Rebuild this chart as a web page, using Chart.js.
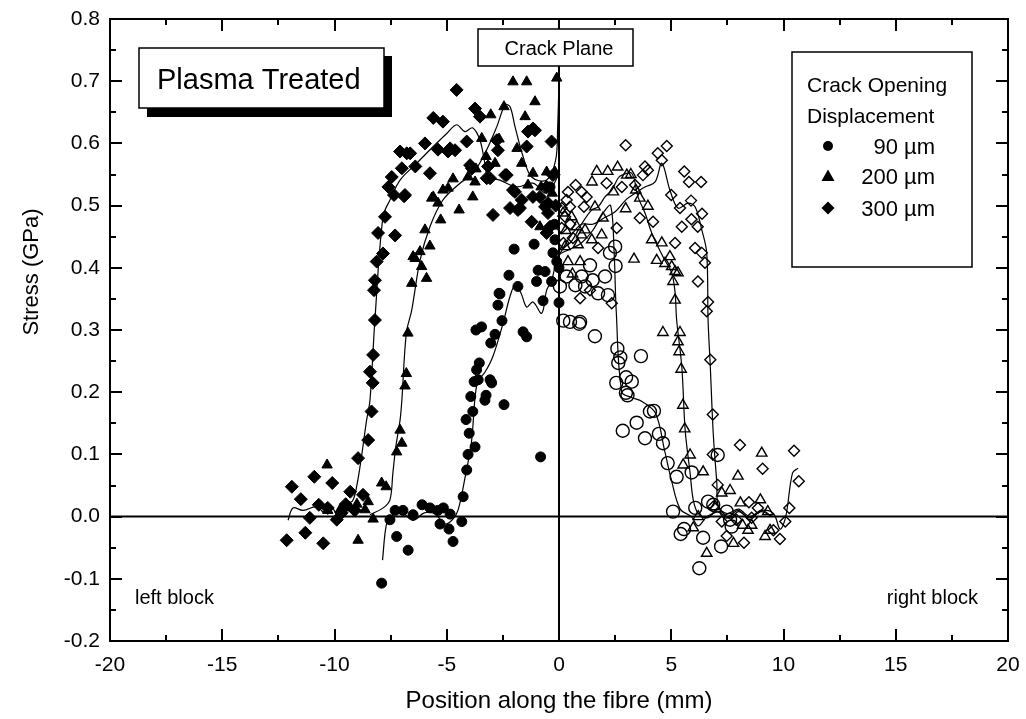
<!DOCTYPE html>
<html>
<head>
<meta charset="utf-8">
<script src="https://cdn.jsdelivr.net/npm/chart.js@4.4.1/dist/chart.umd.min.js"></script>
<style>
  html, body { margin: 0; padding: 0; background: #fff; }
  canvas { display: block; }
</style>
</head>
<body>
<canvas id="stressChart" width="1026" height="719"></canvas>
<script>
// axis ticks
const xTicks = [-20, -15, -10, -5, 0, 5, 10, 15, 20];
const yTicks = [-0.2, -0.1, 0.0, 0.1, 0.2, 0.3, 0.4, 0.5, 0.6, 0.7, 0.8];
const codLabels = ['90 \u00b5m', '200 \u00b5m', '300 \u00b5m'];

// 90 um, left block (filled circles)
const left90 = [
  [-7.9,-0.107],[-6.72,-0.054],[-7.23,-0.032],[-7.53,-0.005],[-7.3,0.01],[-6.95,0.01],[-6.5,0.003],
  [-6.1,0.019],[-5.75,0.014],[-5.4,0.01],[-5.3,-0.012],[-5.15,0.014],[-4.9,-0.02],[-4.72,-0.04],
  [-4.85,0.004],[-4.33,-0.008],[-4.27,0.032],[-4.11,0.075],[-4.05,0.1],[-3.74,0.112],[-4.0,0.134],
  [-4.14,0.156],[-3.84,0.169],[-3.93,0.193],[-3.3,0.187],[-3.25,0.195],[-2.45,0.18],[-3.78,0.217],
  [-3.6,0.22],[-3.07,0.22],[-3.0,0.215],[-3.67,0.236],[-3.55,0.247],[-3.04,0.279],[-2.85,0.293],
  [-3.7,0.3],[-3.45,0.305],[-2.54,0.315],[-2.72,0.34],[-2.63,0.358],[-1.83,0.37],[-1.6,0.297],
  [-1.44,0.289],[-0.82,0.096],[-1.0,0.378],[-0.71,0.347],[0.0,0.344],[-0.33,0.378],[-2.0,0.43],
  [-1.11,0.438],[-2.23,0.388],[-2.67,0.359],[-0.93,0.396],[-0.62,0.394],[-0.18,0.445],[-0.27,0.424],
  [-0.1,0.41],[-0.6,0.5],[-0.2,0.47],[-0.4,0.53],[0.0,0.4]
];

// 200 um, left block (filled triangles)
const left200 = [
  [-10.33,0.083],[-7.9,0.054],[-7.7,0.048],[-8.5,0.024],[-8.64,0.011],[-8.28,-0.004],[-8.95,-0.038],
  [-7.23,0.104],[-7.0,0.118],[-7.08,0.139],[-9.75,0.011],[-9.3,0.014],[-10.3,0.01],[-9.0,0.02],
  [-6.73,0.295],[-6.8,0.23],[-6.86,0.21],[-2.05,0.699],[-1.44,0.699],[-0.1,0.705],[-1.07,0.667],
  [-2.45,0.659],[-3.04,0.646],[-1.51,0.643],[-3.44,0.608],[-2.67,0.607],[-1.87,0.592],[-3.25,0.579],
  [-2.85,0.568],[-1.66,0.568],[-3.7,0.559],[-4.05,0.546],[-4.72,0.543],[-4.94,0.528],[-5.17,0.525],
  [-1.38,0.533],[-1.16,0.552],[-0.18,0.554],[-5.6,0.514],[-5.39,0.504],[-3.84,0.514],[-4.45,0.493],
  [-5.27,0.477],[-5.97,0.461],[-5.75,0.435],[-6.41,0.415],[-6.5,0.418],[-6.19,0.426],[-6.12,0.402],
  [-5.9,0.383],[-6.56,0.375],[-0.85,0.466],[-0.49,0.461],[-0.55,0.554],[-5.67,0.512],[-3.74,0.538],
  [-0.3,0.52],[-0.8,0.53]
];

// 300 um, left block (filled diamonds)
const left300 = [
  [-11.9,0.048],[-10.9,0.064],[-10.1,0.054],[-11.5,0.028],[-10.7,0.019],[-11.1,-0.002],[-12.13,-0.038],
  [-11.3,-0.026],[-10.5,-0.043],[-9.9,-0.005],[-10.3,0.014],[-9.3,0.04],[-8.95,0.094],[-8.5,0.123],
  [-8.73,0.035],[-9.68,0.006],[-9.5,0.02],[-9.1,0.01],[-8.2,0.316],[-8.28,0.26],[-8.42,0.233],
  [-8.3,0.215],[-8.35,0.169],[-7.08,0.587],[-6.78,0.584],[-7.0,0.56],[-7.45,0.546],[-7.6,0.53],
  [-7.35,0.517],[-6.9,0.515],[-7.75,0.482],[-8.06,0.456],[-7.3,0.452],[-7.84,0.423],[-8.12,0.41],
  [-8.2,0.38],[-8.24,0.364],[-4.56,0.686],[-3.74,0.656],[-3.52,0.643],[-5.6,0.641],[-5.17,0.635],
  [-5.97,0.6],[-5.39,0.59],[-4.94,0.587],[-4.11,0.603],[-6.4,0.563],[-5.75,0.552],[-3.96,0.565],
  [-3.22,0.544],[-2.4,0.549],[-2.05,0.525],[-1.66,0.509],[-1.16,0.624],[-1.38,0.619],[-0.33,0.603],
  [-1.44,0.595],[-2.18,0.496],[-1.83,0.493],[-2.94,0.485],[-1.22,0.474],[-0.85,0.514],[-0.55,0.456],
  [-0.62,0.498],[-1.07,0.621],[-2.72,0.589],[-2.77,0.605],[-2.33,0.549],[-1.96,0.522],[-1.74,0.496],
  [-1.16,0.514],[-0.55,0.53],[-0.49,0.504],[-0.49,0.488],[-0.4,0.466],[-3.07,0.544],[-3.16,0.563],
  [-3.88,0.56],[-4.63,0.589],[-4.85,0.592],[-6.63,0.584],[-6.86,0.517],[-0.27,0.549],[-0.15,0.5]
];

// 90 um, right block (open circles)
const right90 = [
  [0.19,0.315],[0.9,0.31],[1.6,0.29],[2.6,0.27],[2.73,0.256],[2.64,0.247],[3.65,0.258],[2.55,0.215],
  [2.99,0.224],[3.24,0.217],[2.98,0.199],[3.05,0.195],[4.05,0.169],[4.23,0.17],[3.46,0.151],
  [2.84,0.138],[3.83,0.126],[4.45,0.133],[4.63,0.118],[4.84,0.086],[5.24,0.064],[5.91,0.071],
  [6.07,0.014],[5.08,0.008],[6.64,0.024],[6.87,0.019],[5.57,-0.02],[5.42,-0.028],[6.42,-0.034],
  [7.22,-0.048],[6.25,-0.083],[7.07,0.099],[7.47,0.008],[7.62,-0.005],[7.69,-0.016],[2.5,0.434],
  [2.27,0.424],[2.52,0.403],[1.38,0.404],[1.01,0.386],[0.73,0.372],[2.05,0.386],[1.74,0.359],
  [2.18,0.356],[1.16,0.37],[0.04,0.37],[0.34,0.386],[0.49,0.313],[0.94,0.313],[1.5,0.38]
];

// 200 um, right block (open triangles)
const right200 = [
  [1.68,0.555],[2.17,0.555],[2.61,0.562],[1.47,0.538],[3.02,0.549],[3.2,0.55],[2.42,0.522],[3.42,0.525],
  [1.6,0.498],[2.97,0.495],[3.6,0.512],[3.96,0.499],[1.96,0.48],[0.18,0.488],[0.56,0.482],[0.79,0.466],
  [1.01,0.453],[1.46,0.445],[1.16,0.461],[1.9,0.453],[0.85,0.437],[0.27,0.434],[0.4,0.41],[0.94,0.41],
  [4.13,0.445],[4.58,0.44],[3.34,0.414],[4.35,0.412],[4.72,0.407],[4.94,0.418],[5.02,0.402],
  [5.17,0.394],[5.3,0.392],[5.08,0.378],[5.17,0.348],[4.63,0.296],[5.39,0.296],[5.3,0.281],
  [5.35,0.265],[5.44,0.237],[5.52,0.179],[5.6,0.141],[5.84,0.099],[5.53,0.083],[6.42,0.072],
  [7.97,0.065],[9.03,0.102],[7.62,0.042],[7.25,0.038],[8.08,0.022],[8.97,0.027],[6.96,0.016],
  [6.2,0.0],[5.98,-0.018],[8.18,-0.014],[8.42,-0.022],[8.58,-0.014],[7.77,-0.043],[6.58,-0.059],
  [9.18,-0.032],[9.4,-0.022],[9.3,0.008],[0.6,0.39],[0.3,0.46]
];

// 300 um, right block (open diamonds)
const right300 = [
  [2.97,0.597],[4.8,0.596],[4.4,0.584],[4.58,0.573],[5.58,0.555],[5.79,0.538],[6.33,0.538],[0.74,0.533],
  [0.4,0.522],[1.01,0.522],[1.23,0.514],[2.12,0.536],[3.83,0.563],[3.96,0.557],[3.74,0.549],[2.8,0.53],
  [3.39,0.533],[0.34,0.509],[0.49,0.498],[0.12,0.496],[0.27,0.482],[1.11,0.498],[5.0,0.517],
  [5.39,0.496],[5.88,0.508],[6.37,0.487],[5.9,0.478],[6.18,0.466],[5.47,0.466],[3.6,0.48],[4.19,0.474],
  [2.57,0.464],[5.17,0.44],[6.06,0.432],[6.36,0.424],[6.5,0.408],[1.74,0.432],[0.12,0.464],[0.62,0.448],
  [1.38,0.364],[0.94,0.351],[6.19,0.378],[6.64,0.345],[6.58,0.33],[2.35,0.343],[6.74,0.252],
  [6.85,0.164],[6.85,0.1],[7.07,0.051],[8.06,0.115],[9.07,0.077],[10.47,0.106],[10.68,0.057],
  [10.26,0.014],[10.08,-0.008],[9.84,-0.036],[9.55,-0.022],[8.46,0.023],[7.47,-0.031],[8.24,-0.042],
  [7.25,-0.008],[7.9,-0.005],[8.86,0.014],[8.58,-0.002],[6.87,0.016],[0.2,0.44],[0.5,0.47]
];

// smoothed fits
const fit90 = [
  [-7.86,-0.07],[-7.7,-0.015],[-7.5,0.0],[-7.0,0.006],[-6.5,-0.006],[-6.0,0.006],[-5.5,0.004],
  [-5.1,-0.012],[-4.75,-0.005],[-4.5,0.01],[-4.2,0.06],[-3.9,0.12],[-3.65,0.215],[-3.3,0.232],
  [-2.95,0.257],[-2.5,0.31],[-2.19,0.353],[-1.96,0.372],[-1.7,0.36],[-1.44,0.337],[-1.16,0.345],
  [-0.77,0.327],[-0.55,0.364],[-0.33,0.38],[0.0,0.42],[0.5,0.43],[1.0,0.44],[1.5,0.46],[2.0,0.49],
  [2.3,0.5],[2.45,0.43],[2.55,0.33],[2.8,0.2],[3.2,0.192],[3.7,0.185],[4.3,0.166],[4.7,0.107],
  [5.0,0.06],[5.4,0.012],[5.9,0.0],[6.2,-0.015],[6.6,0.0],[7.2,0.008],[7.6,-0.003],[8.0,0.008],
  [8.5,-0.002],[9.0,0.008],[9.5,0.0]
];
const fit200Left = [
  [-8.42,0.003],[-7.83,0.014],[-7.53,0.027],[-7.4,0.07],[-7.27,0.112],[-7.08,0.155],[-7.0,0.187],
  [-6.8,0.295],[-6.56,0.332],[-6.19,0.412],[-5.75,0.466],[-5.17,0.509],[-4.41,0.536],[-3.83,0.552],
  [-3.3,0.584],[-2.77,0.627],[-2.4,0.662],[-2.18,0.659],[-1.96,0.627],[-1.6,0.579],[-1.22,0.546],
  [-0.55,0.541],[-0.15,0.573],[-0.06,0.626],[0.0,0.70]
];
const fit200Right = [
  [0.0,0.43],[0.5,0.44],[1.0,0.47],[1.46,0.493],[1.74,0.498],[2.05,0.514],[2.35,0.525],[2.63,0.544],
  [2.8,0.549],[3.24,0.552],[3.52,0.514],[3.83,0.488],[4.13,0.456],[4.41,0.434],[4.72,0.412],
  [5.02,0.392],[5.17,0.36],[5.24,0.316],[5.47,0.241],[5.62,0.139],[5.84,0.07],[5.98,0.027],
  [6.2,0.005],[6.6,-0.002],[7.0,0.008],[7.5,0.0],[8.0,0.01],[8.5,-0.005],[9.0,0.01],[9.5,0.0]
];
const fit300Left = [
  [-12.07,-0.006],[-11.85,0.014],[-11.4,0.01],[-10.8,0.016],[-10.4,0.005],[-10.2,0.019],[-9.8,0.0],
  [-9.5,0.02],[-9.2,0.025],[-9.0,0.051],[-8.8,0.096],[-8.57,0.155],[-8.42,0.187],[-8.2,0.316],
  [-7.84,0.482],[-7.53,0.509],[-7.08,0.541],[-6.34,0.568],[-5.6,0.595],[-5.0,0.616],[-4.56,0.63],
  [-4.19,0.619],[-3.85,0.625],[-3.52,0.605],[-3.3,0.568],[-3.16,0.546],[-2.63,0.541],[-1.89,0.53],
  [-1.16,0.536],[-0.55,0.52],[0.0,0.55]
];
const fit300Right = [
  [0.0,0.42],[0.5,0.45],[1.0,0.47],[1.5,0.47],[2.0,0.48],[2.5,0.49],[3.0,0.51],[3.39,0.52],[3.83,0.53],
  [4.28,0.538],[4.58,0.568],[4.94,0.525],[5.3,0.496],[5.75,0.504],[6.06,0.498],[6.36,0.461],
  [6.58,0.424],[6.64,0.316],[6.74,0.241],[6.87,0.134],[7.03,0.054],[7.1,0.016],[7.5,0.005],
  [8.0,0.012],[8.5,0.0],[9.0,0.01],[9.55,0.005],[9.85,-0.02],[10.1,0.0],[10.4,0.07],[10.65,0.078]
];

const FONT = '"Liberation Sans", Arial, Helvetica, sans-serif';
const toPts = arr => arr.map(([x, y]) => ({ x, y }));

function markers(data, style, radius, filled) {
    return {
        data: toPts(data),
        showLine: false,
        pointStyle: style,
        pointRadius: radius,
        pointBorderWidth: filled ? 1 : 1.4,
        pointBorderColor: '#000',
        pointBackgroundColor: filled ? '#000' : 'rgba(0,0,0,0)',
        order: 1
    };
}

function fitLine(data) {
    return {
        data: toPts(data),
        showLine: true,
        borderColor: '#000',
        borderWidth: 1.2,
        pointRadius: 0,
        tension: 0.35,
        fill: false,
        order: 2
    };
}

function drawText(ctx, text, x, y, size, align) {
    ctx.font = `${size}px ${FONT}`;
    ctx.textAlign = align || 'left';
    ctx.textBaseline = 'alphabetic';
    ctx.fillStyle = '#000';
    ctx.fillText(text, x, y);
}

// zero lines behind the data
const guideLines = {
    id: 'guideLines',
    beforeDatasetsDraw(chart) {
        const { ctx, chartArea: a, scales: { x, y } } = chart;
        const y0 = y.getPixelForValue(0);
        const x0 = x.getPixelForValue(0);
        ctx.save();
        ctx.strokeStyle = '#000';
        ctx.lineWidth = 2;
        ctx.beginPath();
        ctx.moveTo(a.left, y0);
        ctx.lineTo(a.right, y0);
        ctx.moveTo(x0, 66);
        ctx.lineTo(x0, a.bottom);
        ctx.stroke();
        ctx.restore();
    }
};

// frame, inward ticks and all the annotations
const frameAndNotes = {
    id: 'frameAndNotes',
    afterDraw(chart) {
        const { ctx, chartArea: a, scales: { x, y } } = chart;
        ctx.save();
        ctx.strokeStyle = '#000';
        ctx.lineWidth = 2;
        ctx.strokeRect(a.left, a.top, a.right - a.left, a.bottom - a.top);

        ctx.beginPath();
        for (let i = 0; i <= 16; i++) {
            const v = -20 + i * 2.5;
            const px = Math.round(x.getPixelForValue(v));
            const len = i % 2 === 0 ? 12 : 6;
            ctx.moveTo(px, a.bottom); ctx.lineTo(px, a.bottom - len);
            ctx.moveTo(px, a.top); ctx.lineTo(px, a.top + len);
        }
        for (let i = 0; i <= 20; i++) {
            const v = -0.2 + i * 0.05;
            const py = Math.round(y.getPixelForValue(v));
            const len = i % 2 === 0 ? 12 : 6;
            ctx.moveTo(a.left, py); ctx.lineTo(a.left + len, py);
            ctx.moveTo(a.right, py); ctx.lineTo(a.right - len, py);
        }
        ctx.stroke();

        // axis titles
        drawText(ctx, 'Position along the fibre (mm)', x.getPixelForValue(0), 708, 24, 'center');
        ctx.save();
        ctx.translate(38, 272);
        ctx.rotate(-Math.PI / 2);
        drawText(ctx, 'Stress (GPa)', 0, 0, 22, 'center');
        ctx.restore();

        // Plasma Treated box with shadow
        ctx.fillStyle = '#000';
        ctx.fillRect(147, 56, 245, 61);
        ctx.fillStyle = '#fff';
        ctx.fillRect(139, 48, 245, 60);
        ctx.lineWidth = 1.5;
        ctx.strokeRect(139, 48, 245, 60);
        drawText(ctx, 'Plasma Treated', 157, 89, 29);

        // Crack Plane label
        ctx.fillStyle = '#fff';
        ctx.fillRect(478, 29, 155, 37);
        ctx.strokeRect(478, 29, 155, 37);
        drawText(ctx, 'Crack Plane', x.getPixelForValue(0), 55, 20, 'center');

        // block labels
        drawText(ctx, 'left block', 135, 604, 20);
        drawText(ctx, 'right block', 978, 604, 20, 'right');

        // legend
        ctx.strokeRect(792, 52, 180, 215);
        drawText(ctx, 'Crack Opening', 807, 92, 21);
        drawText(ctx, 'Displacement', 807, 123, 21);
        const rows = [146, 176, 208];
        ctx.fillStyle = '#000';
        ctx.beginPath();
        ctx.arc(828, rows[0], 5, 0, Math.PI * 2);
        ctx.fill();
        ctx.beginPath();
        ctx.moveTo(828, rows[1] - 6.5); ctx.lineTo(834.5, rows[1] + 5); ctx.lineTo(821.5, rows[1] + 5);
        ctx.closePath();
        ctx.fill();
        ctx.beginPath();
        ctx.moveTo(828, rows[2] - 6.5); ctx.lineTo(834.5, rows[2]); ctx.lineTo(828, rows[2] + 6.5); ctx.lineTo(821.5, rows[2]);
        ctx.closePath();
        ctx.fill();
        codLabels.forEach((t, i) => drawText(ctx, t, 935, rows[i] + 8, 22, 'right'));
        ctx.restore();
    }
};

new Chart(document.getElementById('stressChart'), {
    type: 'scatter',
    data: {
        datasets: [
            markers(left90, 'circle', 5, true),
            markers(left200, 'triangle', 6, true),
            markers(left300, 'rectRot', 6.5, true),
            markers(right90, 'circle', 6.5, false),
            markers(right200, 'triangle', 6, false),
            markers(right300, 'rectRot', 5.5, false),
            fitLine(fit90),
            fitLine(fit200Left),
            fitLine(fit200Right),
            fitLine(fit300Left),
            fitLine(fit300Right)
        ]
    },
    options: {
        responsive: false,
        animation: false,
        layout: { padding: { left: 0, right: 18, top: 19, bottom: 0 } },
        plugins: { legend: { display: false }, tooltip: { enabled: false } },
        scales: {
            x: {
                type: 'linear',
                min: -20,
                max: 20,
                afterBuildTicks: s => { s.ticks = xTicks.map(v => ({ value: v })); },
                afterFit: s => { s.height = 78; s.paddingLeft = 0; s.paddingRight = 0; },
                grid: { display: false, drawTicks: false },
                border: { display: false },
                ticks: {
                    padding: 12,
                    color: '#000',
                    font: { family: FONT, size: 21 },
                    callback: v => String(v)
                }
            },
            y: {
                type: 'linear',
                min: -0.2,
                max: 0.8,
                afterBuildTicks: s => { s.ticks = yTicks.map(v => ({ value: v })); },
                afterFit: s => { s.width = 110; s.paddingTop = 0; s.paddingBottom = 0; },
                grid: { display: false, drawTicks: false },
                border: { display: false },
                ticks: {
                    padding: 10,
                    color: '#000',
                    font: { family: FONT, size: 21 },
                    callback: v => v.toFixed(1)
                }
            }
        }
    },
    plugins: [guideLines, frameAndNotes]
});
</script>
</body>
</html>
